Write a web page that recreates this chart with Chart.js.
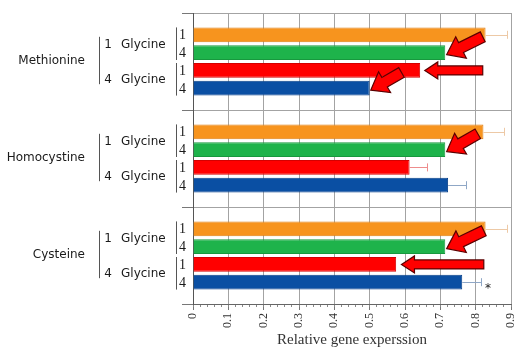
<!DOCTYPE html>
<html><head><meta charset="utf-8">
<script src="https://cdn.jsdelivr.net/npm/chart.js@4.4.1/dist/chart.umd.min.js"></script>
<style>html,body{margin:0;padding:0;background:#fff;}#wrap{width:516px;height:351px;position:relative;}</style>
</head><body><div id="wrap"><canvas id="c"></canvas></div>
<script>
// ---- data ----
const categories = ['Methionine', 'Homocystine', 'Cysteine'];
const glycineNumbers = ['1', '4'];
const glycineWord = 'Glycine';
const barLabels = ['1', '4', '1', '4'];
const seriesNames = ['1 Glycine / 1', '1 Glycine / 4', '4 Glycine / 1', '4 Glycine / 4'];
const s1G1 = [0.828, 0.822, 0.828];
const s1G4 = [0.714, 0.714, 0.714];
const s4G1 = [0.643, 0.613, 0.575];
const s4G4 = [0.500, 0.722, 0.762];
const e1G1 = [0.062, 0.059, 0.062];
const e1G4 = [0, 0, 0];
const e4G1 = [0, 0.050, 0];
const e4G4 = [0, 0.051, 0.053];
const xTickLabels = ['0', '0.1', '0.2', '0.3', '0.4', '0.5', '0.6', '0.7', '0.8', '0.9'];
const xTitle = 'Relative gene experssion';
// arrows: category, target series, tip value, tail value, tail series
const arrowCat = [0, 0, 0, 1, 2, 2];
const arrowSeries = [1, 2, 3, 1, 1, 2];
const arrowTip = [0.718, 0.656, 0.503, 0.718, 0.718, 0.590];
const arrowTail = [0.820, 0.820, 0.590, 0.806, 0.823, 0.823];
const arrowTailSeries = [0, 2, 2, 0, 0, 2];
// significance mark
const starCat = [2];
const starSeries = [3];
const starValue = [0.835];

// ---- styles ----
const fills = ['#F7941E', '#1EB34B', '#FF0000', '#0A4FA3'];
const borders = ['#E07F12', '#17983E', '#D40000', '#073F88'];
const errColors = ['#EDC9A6', '#9BD8AC', '#EE8C8C', '#8FA7C6'];
const values = [s1G1, s1G4, s4G1, s4G4];
const errors = [e1G1, e1G4, e4G1, e4G4];

function drawArrow(ctx, tx, ty, sx, sy, shaftW, headW, headL) {
  const dx = sx - tx, dy = sy - ty, len = Math.hypot(dx, dy);
  const ux = dx / len, uy = dy / len, px = -uy, py = ux;
  const hx = tx + ux * headL, hy = ty + uy * headL;
  ctx.beginPath();
  ctx.moveTo(tx, ty);
  ctx.lineTo(hx + px * headW / 2, hy + py * headW / 2);
  ctx.lineTo(hx + px * shaftW / 2, hy + py * shaftW / 2);
  ctx.lineTo(sx + px * shaftW / 2, sy + py * shaftW / 2);
  ctx.lineTo(sx - px * shaftW / 2, sy - py * shaftW / 2);
  ctx.lineTo(hx - px * shaftW / 2, hy - py * shaftW / 2);
  ctx.lineTo(hx - px * headW / 2, hy - py * headW / 2);
  ctx.closePath();
  ctx.fillStyle = '#FF0000';
  ctx.fill();
  ctx.lineWidth = 1.2;
  ctx.strokeStyle = '#5A0000';
  ctx.stroke();
}

const decor = {
  id: 'decor',
  afterDatasetsDraw(chart) {
    const ctx = chart.ctx, xs = chart.scales.x, ys = chart.scales.y;
    const bar = (i, j) => chart.getDatasetMeta(i).data[j];
    ctx.save();
    // error bars
    for (let i = 0; i < values.length; i++) {
      for (let j = 0; j < categories.length; j++) {
        const e = errors[i][j];
        if (!e) continue;
        const b = bar(i, j);
        const x0 = xs.getPixelForValue(values[i][j]);
        const x1 = xs.getPixelForValue(values[i][j] + e);
        ctx.strokeStyle = errColors[i];
        ctx.lineWidth = 1;
        ctx.beginPath();
        ctx.moveTo(x0, Math.round(b.y) + 0.5);
        ctx.lineTo(x1, Math.round(b.y) + 0.5);
        ctx.moveTo(Math.round(x1) + 0.5, b.y - 4);
        ctx.lineTo(Math.round(x1) + 0.5, b.y + 4);
        ctx.stroke();
      }
    }
    // arrows
    for (let k = 0; k < arrowCat.length; k++) {
      const tb = bar(arrowSeries[k], arrowCat[k]);
      const sb = bar(arrowTailSeries[k], arrowCat[k]);
      const tx = xs.getPixelForValue(arrowTip[k]);
      const sx = xs.getPixelForValue(arrowTail[k]);
      if (arrowSeries[k] === arrowTailSeries[k]) {
        drawArrow(ctx, tx, tb.y, sx, sb.y, 9, 17, 13);
      } else {
        drawArrow(ctx, tx, tb.y + 2, sx, sb.y + 2, 11, 24, 16);
      }
    }
    // star
    ctx.fillStyle = '#222';
    ctx.font = '12px "DejaVu Sans"';
    ctx.textAlign = 'center';
    ctx.textBaseline = 'middle';
    for (let k = 0; k < starCat.length; k++) {
      const b = bar(starSeries[k], starCat[k]);
      ctx.fillText('*', xs.getPixelForValue(starValue[k]), b.y + 7);
    }
    // left hierarchical labels
    ctx.strokeStyle = '#555';
    ctx.lineWidth = 1;
    for (let j = 0; j < categories.length; j++) {
      const b = [0, 1, 2, 3].map(i => bar(i, j));
      const cy = ys.getPixelForValue(j);
      ctx.fillStyle = '#1a1a1a';
      ctx.font = '12px "DejaVu Sans"';
      ctx.textAlign = 'right';
      ctx.fillText(categories[j], 85, cy - 1);
      ctx.beginPath();
      ctx.moveTo(99.5, b[0].y + 2);
      ctx.lineTo(99.5, b[3].y - 4);
      ctx.stroke();
      for (let k = 0; k < 2; k++) {
        const yy = (b[2 * k].y + b[2 * k + 1].y) / 2 + 1;
        ctx.textAlign = 'center';
        ctx.fillText(glycineNumbers[k], 108, yy);
        ctx.textAlign = 'left';
        ctx.fillText(glycineWord, 121, yy);
        ctx.beginPath();
        ctx.moveTo(176.5, b[2 * k].y - b[2 * k].height / 2);
        ctx.lineTo(176.5, b[2 * k + 1].y + b[2 * k + 1].height / 2);
        ctx.stroke();
      }
      ctx.font = '14px "Liberation Serif"';
      ctx.textAlign = 'center';
      for (let i = 0; i < 4; i++) {
        ctx.fillText(barLabels[i], 182.5, b[i].y + 1);
      }
    }
    ctx.restore();
  }
};

new Chart(document.getElementById('c'), {
  type: 'bar',
  data: {
    labels: categories,
    datasets: values.map((d, i) => ({
      label: seriesNames[i], data: d,
      backgroundColor: fills[i], borderColor: borders[i], borderWidth: 1,
      categoryPercentage: 0.734, barPercentage: 0.83
    }))
  },
  options: {
    indexAxis: 'y',
    responsive: true,
    maintainAspectRatio: false,
    animation: false,
    layout: { padding: { top: 13, left: 0, right: 0, bottom: 0 } },
    plugins: { legend: { display: false }, tooltip: { enabled: false } },
    scales: {
      x: {
        type: 'linear', position: 'bottom', min: 0, max: 0.9, weight: 1,
        ticks: {
          stepSize: 0.1, autoSkip: false, minRotation: 90, maxRotation: 90, padding: 3,
          color: '#333', font: { family: 'Liberation Serif', size: 12 },
          callback: (v, i) => xTickLabels[i]
        },
        grid: { color: '#a3a3a3', lineWidth: 1, tickLength: 6, tickColor: '#777' },
        border: { color: '#666' },
        title: { display: true, text: xTitle, color: '#333', font: { family: 'Liberation Serif', size: 15 }, padding: { top: 0, bottom: 2 } },
        afterFit(s) { s.height = 47; s.paddingRight = 5; s.paddingLeft = 0; }
      },
      x2: {
        type: 'linear', position: 'bottom', min: 0, max: 0.9, weight: 0,
        ticks: { display: false, stepSize: 0.02, autoSkip: false },
        grid: { drawOnChartArea: false, tickLength: 3, tickColor: '#888' },
        border: { display: false },
        afterFit(s) { s.height = 0; s.paddingRight = 5; s.paddingLeft = 0; }
      },
      y: {
        type: 'category', offset: true,
        grid: { offset: true, color: '#a3a3a3', tickLength: 11, tickColor: '#777' },
        border: { color: '#555' },
        ticks: { display: false },
        afterFit(s) { s.width = 193; }
      }
    }
  },
  plugins: [decor]
});
</script></body></html>
